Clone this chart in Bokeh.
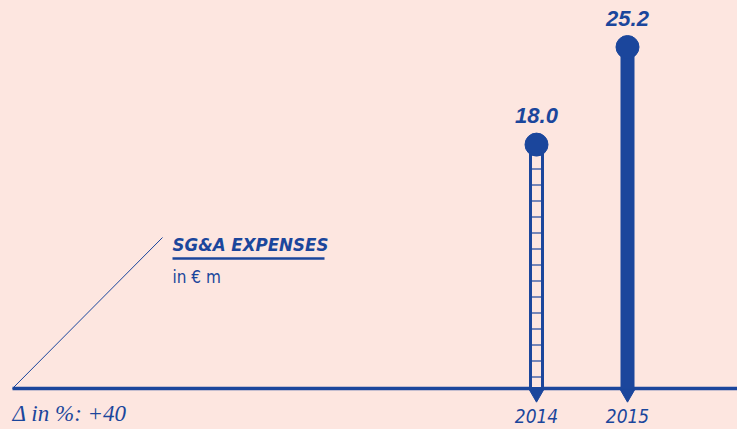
from bokeh.plotting import figure
from bokeh.models import Range1d, Label
from bokeh.core.properties import value
from bokeh.embed import file_html
from bokeh.resources import INLINE

# ---- data ----
years = [2014, 2015]
values = [18.0, 25.2]
value_labels = ["18.0", "25.2"]
year_labels = ["2014", "2015"]
title_text = "SG&A EXPENSES"
unit_text = "in € m"
delta_text = "Δ in %: +40"

# ---- style ----
BG = "#FDE6E0"
BLUE = "#1B469C"
NARROW = "'DejaVu Sans Condensed', 'Roboto'"

W, H = 737, 429
PX_PER_YEAR = 91.0
PX_PER_UNIT = 13.55
X0_PX = 536      # screen x of first year
BASE_PX = 388    # screen y of baseline (from top)

x_start = years[0] - X0_PX / PX_PER_YEAR
x_end = x_start + W / PX_PER_YEAR
y_end = BASE_PX / PX_PER_UNIT
y_start = y_end - H / PX_PER_UNIT


def dx(px):
    return x_start + px / PX_PER_YEAR


def dy(py):
    return y_end - py / PX_PER_UNIT


p = figure(width=W, height=H, x_range=Range1d(x_start, x_end),
           y_range=Range1d(y_start, y_end), output_backend="svg",
           toolbar_location=None, min_border=0, x_axis_type=None,
           y_axis_type=None, background_fill_color=BG,
           border_fill_color=BG, outline_line_color=None)
p.grid.visible = False

# baseline and diagonal decoration
p.segment(x0=[dx(12)], y0=[0], x1=[x_end], y1=[0], line_color=BLUE, line_width=3.5)
p.segment(x0=[dx(12)], y0=[0], x1=[dx(162)], y1=[dy(237)], line_color=BLUE, line_width=1)

# bars: first hollow with rungs, second solid
p.vbar(x=[years[0]], top=[values[0]], bottom=0, width=12 / PX_PER_YEAR,
       fill_color=BG, line_color=BLUE, line_width=3,
       hatch_pattern="horizontal_line", hatch_color=BLUE, hatch_scale=16,
       hatch_weight=1.2)
p.vbar(x=[years[1]], top=[values[1]], bottom=0, width=14 / PX_PER_YEAR,
       fill_color=BLUE, line_color=None)

# markers
p.scatter(x=years, y=values, size=23, color=BLUE)
p.scatter(x=years, y=[dy(BASE_PX + 5)] * len(years), marker="inverted_triangle",
          size=15, color=BLUE)

# value labels
p.text(x=years, y=values, text=value_labels, y_offset=-29, text_align="center",
       text_baseline="alphabetic", text_color=BLUE,
       text_font=value("Liberation Sans"), text_font_size="22px",
       text_font_style="bold italic")

# year labels
p.text(x=years, y=[dy(415)] * len(years), text=year_labels, text_align="center",
       text_baseline="alphabetic", text_color=BLUE,
       text_font=value(NARROW), text_font_size="19px",
       text_font_style="italic")

# title / unit / delta
p.add_layout(Label(x=dx(172), y=dy(244), text=title_text, text_color=BLUE,
                   text_font=NARROW, text_font_size="18.5px",
                   text_font_style="bold italic", text_baseline="alphabetic"))
p.segment(x0=[dx(172)], y0=[dy(258)], x1=[dx(324)], y1=[dy(258)],
          line_color=BLUE, line_width=2.5)
p.add_layout(Label(x=dx(172), y=dy(276), text=unit_text, text_color=BLUE,
                   text_font=NARROW, text_font_size="17px",
                   text_baseline="alphabetic"))
p.add_layout(Label(x=dx(12), y=dy(413), text=delta_text, text_color=BLUE,
                   text_font="Liberation Serif", text_font_size="23px",
                   text_font_style="italic", text_baseline="alphabetic"))

html = file_html(p, INLINE)
html = html.replace("<head>", "<head><style>html,body{background:#FDE6E0;}</style>", 1)
open("out.html", "w").write(html)
